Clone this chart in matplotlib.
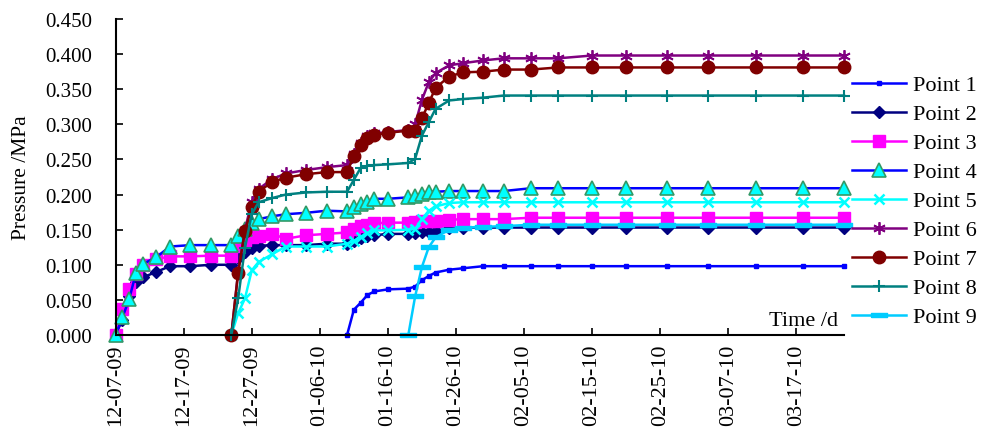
import numpy as np
import matplotlib
matplotlib.use("Agg")
import matplotlib.pyplot as plt
import matplotlib.dates as mdates

plt.rcParams['font.family'] = ['Liberation Serif', 'DejaVu Serif']

# measurement days since 12-07-2009 (later series use the tail of this list)
days = [0, 1, 2, 3, 4, 6, 8, 11, 14, 17, 18, 19, 20, 21, 23, 25, 28, 31, 34, 35, 36,
        37, 38, 40, 43, 44, 45, 46, 47, 49, 51, 54, 57, 61, 65, 70, 75, 81, 87, 94, 101, 107]

p1 = [0.0, 0.036, 0.046, 0.057, 0.062, 0.065, 0.066, 0.069, 0.078, 0.084, 0.089, 0.093,
      0.095, 0.098, 0.098, 0.098, 0.098, 0.098, 0.098, 0.098, 0.098, 0.098, 0.098, 0.098]
p2 = [0.0, 0.022, 0.056, 0.075, 0.082, 0.090, 0.098, 0.098, 0.100, 0.100,
      0.110, 0.118, 0.124, 0.127, 0.128, 0.128, 0.128, 0.130,
      0.130, 0.134, 0.138, 0.141, 0.142, 0.144, 0.144, 0.145, 0.146, 0.147, 0.148,
      0.152, 0.153, 0.153, 0.153,
      0.153, 0.153, 0.153, 0.153, 0.153, 0.153, 0.153, 0.153, 0.153]
p3 = [0.0, 0.037, 0.066, 0.087, 0.099, 0.108, 0.112, 0.112, 0.113, 0.113,
      0.127, 0.135, 0.139, 0.141, 0.144, 0.137, 0.142, 0.144,
      0.146, 0.151, 0.155, 0.157, 0.159, 0.160, 0.160, 0.161, 0.162, 0.163, 0.163,
      0.164, 0.165, 0.165, 0.165,
      0.167, 0.167, 0.167, 0.167, 0.167, 0.167, 0.167, 0.167, 0.167]
p4 = [0.0, 0.025, 0.051, 0.089, 0.101, 0.111, 0.126, 0.128, 0.128, 0.128,
      0.141, 0.151, 0.159, 0.165, 0.169, 0.172, 0.174, 0.177,
      0.176, 0.182, 0.187, 0.190, 0.194, 0.194, 0.196, 0.198, 0.201, 0.204, 0.204,
      0.205, 0.205, 0.205, 0.205,
      0.209, 0.209, 0.209, 0.209, 0.209, 0.209, 0.209, 0.209, 0.209]
p5 = [0.0, 0.031, 0.052, 0.092, 0.104, 0.115, 0.126, 0.126, 0.126,
      0.130, 0.134, 0.140, 0.145, 0.149, 0.149, 0.150, 0.151, 0.165, 0.177, 0.183,
      0.188, 0.189, 0.189, 0.189,
      0.189, 0.189, 0.189, 0.189, 0.189, 0.189, 0.189, 0.189, 0.189]
p6 = [0.0, 0.090, 0.150, 0.190, 0.208, 0.222, 0.230, 0.235, 0.239,
      0.242, 0.258, 0.273, 0.284, 0.287, 0.289, 0.292, 0.300, 0.335, 0.360, 0.373,
      0.384, 0.387, 0.391, 0.394, 0.394, 0.394,
      0.398, 0.398, 0.398, 0.398, 0.398, 0.398, 0.398]
p7 = [0.0, 0.089, 0.148, 0.182, 0.204, 0.218, 0.224, 0.229, 0.232,
      0.232, 0.255, 0.271, 0.281, 0.285, 0.288, 0.291, 0.291, 0.309, 0.330, 0.352,
      0.368, 0.374, 0.375, 0.378, 0.378,
      0.381, 0.381, 0.381, 0.381, 0.381, 0.381, 0.381, 0.381]
p8 = [0.0, 0.052, 0.124, 0.172, 0.189, 0.195, 0.200, 0.203, 0.204,
      0.204, 0.221, 0.238, 0.241, 0.242, 0.243, 0.245, 0.251, 0.284, 0.303, 0.322,
      0.334, 0.336, 0.338, 0.341,
      0.341, 0.341, 0.341, 0.341, 0.341, 0.341, 0.341, 0.341, 0.341]
p9 = [0.0, 0.055, 0.097, 0.125, 0.139, 0.150, 0.153, 0.154, 0.155,
      0.157, 0.157, 0.157, 0.157, 0.157, 0.157, 0.157, 0.157, 0.157]

names = ['Point 1', 'Point 2', 'Point 3', 'Point 4', 'Point 5',
         'Point 6', 'Point 7', 'Point 8', 'Point 9']

dash = [(-1, -0.3), (1, -0.3), (1, 0.3), (-1, 0.3), (-1, -0.3)]
styles = [
    dict(color='#0000FF', marker='s', ms=3.5, mfc='#0000FF', mec='#0000FF'),
    dict(color='#000080', marker='D', ms=6, mfc='#000080', mec='#000080'),
    dict(color='#FF00FF', marker='s', ms=8, mfc='#FF00FF', mec='#FF00FF'),
    dict(color='#0000FF', marker='^', ms=9.5, mfc='#00FFFF', mec='#339966', mew=1.2),
    dict(color='#00FFFF', marker='x', ms=7, mec='#00FFFF', mew=1.8),
    dict(color='#800080', marker=(6, 2, 0), ms=9, mec='#800080', mew=1.3),
    dict(color='#800000', marker='o', ms=9, mfc='#800000', mec='#800000'),
    dict(color='#008080', marker='+', ms=9, mec='#008080', mew=1.5),
    dict(color='#00CCFF', marker=dash, ms=11, mfc='#00CCFF', mec='#00CCFF'),
]

base = np.datetime64('2009-12-07')
t = base + np.array(days).astype('timedelta64[D]')

fig = plt.figure(figsize=(9.82, 4.39), dpi=100)
ax = fig.add_axes([115.6 / 982, 1 - 336 / 439, (844 - 115.6) / 982, 316 / 439])

for vals, name, st in zip([p1, p2, p3, p4, p5, p6, p7, p8, p9], names, styles):
    ax.plot(t[-len(vals):], vals, lw=1.8, label=name, clip_on=False, **st)

ax.set_xlim(base, base + np.timedelta64(107, 'D'))
ax.set_ylim(0, 0.45)
ax.set_yticks(np.arange(0, 0.451, 0.05))
ax.yaxis.set_major_formatter(matplotlib.ticker.FormatStrFormatter('%.3f'))
ax.set_xticks(base + np.arange(0, 101, 10).astype('timedelta64[D]'))
ax.xaxis.set_major_formatter(mdates.DateFormatter('%m-%d-%y'))
for lbl in ax.get_xticklabels():
    lbl.set_rotation(90)
    lbl.set_fontsize(16)

ax.spines['top'].set_visible(False)
ax.spines['right'].set_visible(False)
for s in ['left', 'bottom']:
    ax.spines[s].set_linewidth(1.5)
ax.tick_params(direction='in', length=5, width=1.2)
ax.tick_params(axis='y', pad=17, labelsize=15)
ax.tick_params(axis='x', pad=6)

ax.set_ylabel('Pressure /MPa', fontsize=15.5, labelpad=10)
ax.text(0.992, 0.015, 'Time /d', transform=ax.transAxes, ha='right', va='bottom', fontsize=16)

ax.legend(loc='center left', bbox_to_anchor=(852 / 982, 1 - 202 / 439),
          bbox_transform=fig.transFigure, frameon=False, fontsize=16,
          handlelength=2.45, handletextpad=0.3, labelspacing=0.38,
          borderpad=0, borderaxespad=0, numpoints=1)

fig.savefig('out.png', dpi=100)
